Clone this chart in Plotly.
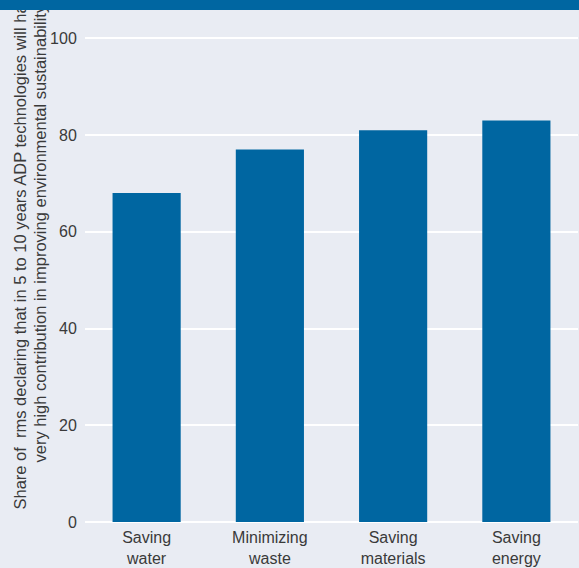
import plotly.graph_objects as go

# Data
categories = ["Saving<br>water", "Minimizing<br>waste", "Saving<br>materials", "Saving<br>energy"]
shares = [68, 77, 81, 83]
y_ticks = [0, 20, 40, 60, 80, 100]
y_title_lines = [
    "Share of  rms declaring that in 5 to 10 years ADP technologies will have a",
    "very high contribution in improving environmental sustainability",
]

W, H = 579, 568
BG = "#e9ecf3"
BLUE = "#0066a1"
TXT = "#3a3a3a"
FONT = "Liberation Sans, Arial, sans-serif"

ML, MR, MT, MB = 85, 1, 19, 46
plot_w = W - ML - MR
plot_h = H - MT - MB


def px_x(x):
    return (x - ML) / plot_w


def px_y(y):
    return (H - MB - y) / plot_h


fig = go.Figure(
    go.Bar(
        x=categories,
        y=shares,
        marker=dict(color=BLUE, line=dict(width=0)),
        hoverinfo="skip",
    )
)

fig.update_layout(
    width=W,
    height=H,
    margin=dict(l=ML, r=MR, t=MT, b=MB, pad=0),
    paper_bgcolor=BG,
    plot_bgcolor=BG,
    bargap=0.447,
    showlegend=False,
    font=dict(family=FONT, size=16, color=TXT),
)

fig.update_xaxes(
    automargin=False,
    showgrid=False,
    showline=False,
    zeroline=False,
    ticks="outside",
    ticklen=1,
    tickcolor=BG,
    tickfont=dict(size=16, color=TXT),
)

fig.update_yaxes(
    automargin=False,
    range=[0, 104],
    tickvals=y_ticks,
    showgrid=True,
    gridcolor="white",
    gridwidth=2,
    zeroline=True,
    zerolinecolor="white",
    zerolinewidth=2,
    showline=False,
    ticks="outside",
    ticklen=4,
    tickcolor=BG,
    tickfont=dict(size=16, color=TXT),
)

# Rotated y-axis caption, one annotation per line
fig.add_annotation(
    text=y_title_lines[0],
    textangle=-90,
    xref="paper", yref="paper",
    x=px_x(19), y=px_y(512),
    xanchor="center", yanchor="bottom",
    showarrow=False,
    font=dict(family=FONT, size=16.5, color=TXT),
)
fig.add_annotation(
    text=y_title_lines[1],
    textangle=-90,
    xref="paper", yref="paper",
    x=px_x(40), y=px_y(233.5),
    xanchor="center", yanchor="middle",
    showarrow=False,
    font=dict(family=FONT, size=16.5, color=TXT),
)

# Header band across the top of the page
fig.add_annotation(
    text=" ",
    xref="paper", yref="paper",
    x=px_x(0), y=px_y(0),
    xanchor="left", yanchor="top",
    width=W, height=10,
    bgcolor=BLUE,
    borderpad=0, borderwidth=0,
    showarrow=False,
)

fig.write_html("out.html")
